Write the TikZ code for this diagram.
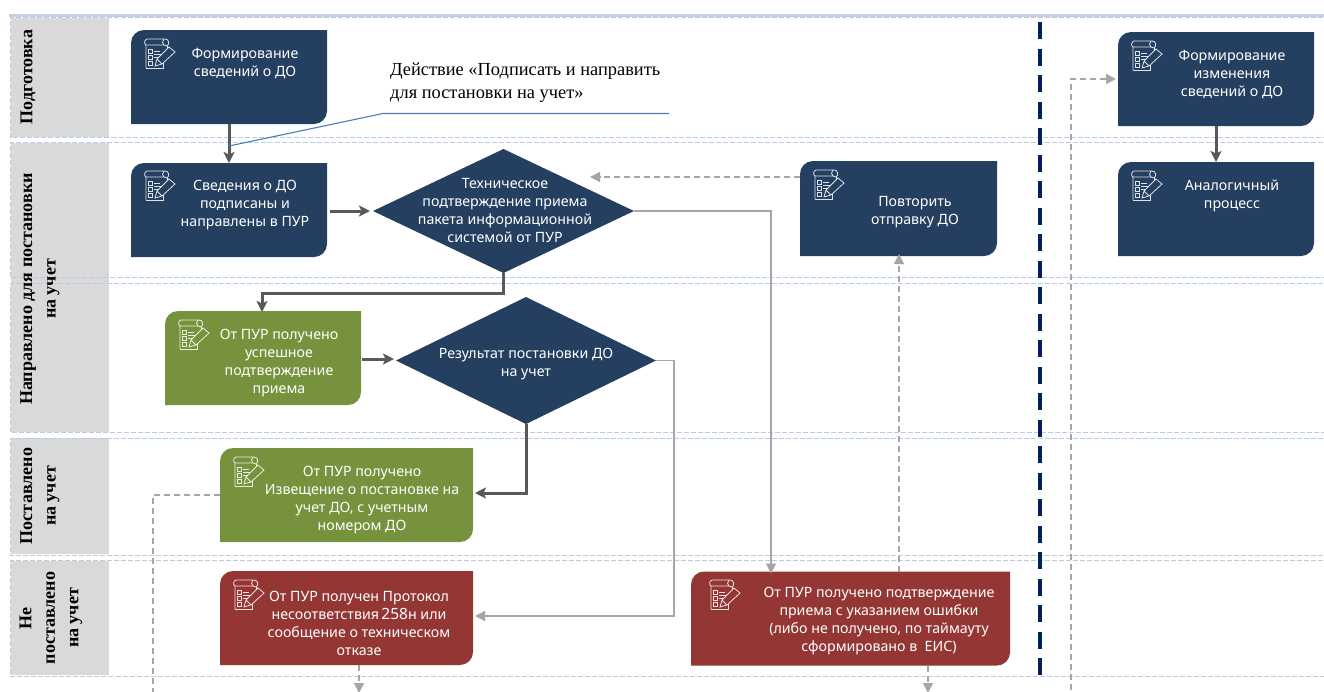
\documentclass[tikz,border=0pt]{standalone}
\usepackage{fontspec}
\setmainfont{Noto Sans}
\newfontfamily\serifcyr{Liberation Serif}
\usetikzlibrary{arrows.meta,shapes.geometric}
\definecolor{navy}{HTML}{243F60}
\definecolor{leaf}{HTML}{76923C}
\definecolor{brick}{HTML}{943634}
\definecolor{lanecol}{HTML}{B8CCE4}
\definecolor{topcol}{HTML}{C5D0E0}
\definecolor{panel}{HTML}{D9D9D9}
\definecolor{darkline}{HTML}{595959}
\definecolor{grayline}{HTML}{A6A6A6}
\definecolor{splitcol}{HTML}{002060}
\definecolor{callcol}{HTML}{4A7EBB}
\tikzset{
  x=1pt,y=-1pt,
  boxframe/.style={rectangle,inner sep=0pt,outer sep=0pt},
  txt/.style={text=white,align=center,inner sep=0pt,font=\fontsize{14.2}{18}\selectfont},
  lanetxt/.style={rotate=90,align=center,inner sep=0pt,font=\serifcyr\bfseries\fontsize{18}{23.5}\selectfont},
  lane/.style={draw=lanecol,line width=1pt,dash pattern=on 5pt off 2pt},
  strong/.style={draw=darkline,line width=3pt,-{Stealth[length=11pt,width=11pt,inset=2.5pt]}},
  thin/.style={draw=grayline,line width=1.5pt,-{Triangle[length=10pt,width=10pt]}},
  dashedflow/.style={draw=grayline,line width=1.5pt,dash pattern=on 6pt off 4pt,-{Triangle[length=10pt,width=10pt]}},
  dashedplain/.style={draw=grayline,line width=1.5pt,dash pattern=on 6pt off 4pt},
  iconline/.style={draw=white,draw opacity=.85,line width=.8pt},
}
\newcommand\docicon[2]{%
  \begin{scope}[shift={(#1,#2)},iconline]
    \draw (2,29) -- (2,6) .. controls (0,5) and (0,1) .. (3,0) -- (21,0)
          .. controls (25,0) and (26,5) .. (23,7) -- (20,6) -- (2,6);
    \draw (2,29) -- (19,29) -- (19,24);
    \draw (23,7) -- (23,9);
    \draw (20,0) .. controls (18,2) and (18,5) .. (20,6);
    \draw (4,10) rectangle (8,14) (4,16) rectangle (8,20) (4,22) rectangle (8,26);
    \draw (10,12) -- (16,12) (10,15) -- (17,15) (10,18) -- (15,18);
    \draw (11,27) -- (13,20) -- (25,8) -- (31,13) -- (18,25) -- cycle (13,20) -- (18,25);
  \end{scope}}
\newcommand\flowbox[6]{%
  \fill[#6] (#2,#5) [rounded corners=13pt] -- (#2,#3) [sharp corners] -- (#4,#3)
     [rounded corners=13pt] -- (#4,#5) [sharp corners] -- cycle;
  \node[boxframe,minimum width={#4-#2},minimum height={#5-#3}] (#1) at ({(#2+#4)/2},{(#3+#5)/2}) {};}
\newcommand\flowdiamond[5]{%
  \pgfmathsetmacro\diaasp{(#4-#2)/(#5-#3)}%
  \node[diamond,fill=navy,inner sep=0pt,outer sep=0pt,shape aspect=\diaasp,
        minimum width={#4-#2},minimum height={#5-#3}] (#1) at ({(#2+#4)/2},{(#3+#5)/2}) {};}
\begin{document}
\begin{tikzpicture}
\useasboundingbox (0,0) rectangle (1324,691);
\clip (0,0) rectangle (1324,691);
\fill[white] (0,0) rectangle (1324,691);
% panels
\fill[panel] (11,18) rectangle (109,137);
\fill[panel] (11,143) rectangle (109,432);
\fill[panel] (11,438) rectangle (109,554);
\fill[panel] (11,561) rectangle (109,675);
% lanes
\draw[lane] (1330,17.5) -- (10.5,17.5) -- (10.5,137) -- (1330,137);
\draw[lane] (1330,142.5) -- (10.5,142.5) -- (10.5,277) -- (1330,277);
\draw[lane] (1330,283) -- (10.5,283) -- (10.5,432) -- (1330,432);
\draw[lane] (1330,438) -- (10.5,438) -- (10.5,555) -- (1330,555);
\draw[lane] (1330,560.5) -- (10.5,560.5) -- (10.5,676) -- (1330,676);
\fill[topcol] (9,13.5) rectangle (1324,16.5);
% lane labels
\node[lanetxt] (l1) at (28,77) {Подготовка};
\node[lanetxt] (l2) at (40,289) {Направлено для постановки\\на учет};
\node[lanetxt] (l3) at (40,496) {Поставлено\\на учет};
\node[lanetxt] (l4) at (51,618) {Не\\поставлено\\на учет};
% divider
\coordinate (divtop) at (1040,22);
\coordinate (divbot) at (1040,676);
\draw[splitcol,line width=3.6pt,dash pattern=on 17pt off 9.5pt] (divtop) -- (divbot);
% free ends
\coordinate (idown) at (153,700);
\coordinate (jdown) at (359,693);
\coordinate (kdown) at (928,693);
\coordinate (eup) at (1071,700);
% boxes
\flowbox{a}{131}{30}{327}{124}{navy}
\flowbox{b}{131}{163}{327}{257}{navy}
\flowbox{d}{800}{161}{997}{256}{navy}
\flowbox{e}{1118}{32}{1314}{126}{navy}
\flowbox{f}{1118}{162}{1314}{256}{navy}
\flowbox{g}{165}{311}{361}{405}{leaf}
\flowbox{i}{220}{448}{473}{542}{leaf}
\flowbox{j}{220}{571}{473}{665}{brick}
\flowbox{k}{691}{571.5}{1010}{665.5}{brick}
\flowdiamond{c}{373}{149}{634}{273}
\flowdiamond{h}{396}{297}{656}{424}
% icons
\docicon{144}{39}
\docicon{144}{171}
\docicon{813}{170}
\docicon{1131}{41}
\docicon{1131}{171}
\docicon{178}{320}
\docicon{233}{457}
\docicon{233}{580}
\docicon{709}{580}
% texts
\node[txt] (ta) at (245,63) {Формирование\\сведений о ДО};
\node[txt] (tb) at (245,205) {Сведения о ДО\\подписаны и\\направлены в ПУР};
\node[txt] (tc) at (505,211) {Техническое\\подтверждение приема\\пакета информационной\\системой от ПУР};
\node[txt] (td) at (915,212) {Повторить\\отправку ДО};
\node[txt] (te) at (1232,74) {Формирование\\изменения\\сведений о ДО};
\node[txt] (tf) at (1232,196) {Аналогичный\\процесс};
\node[txt] (tg) at (279,363) {От ПУР получено\\успешное\\подтверждение\\приема};
\node[txt] (th) at (526,364) {Результат постановки ДО\\на учет};
\node[txt] (ti) at (362,500) {От ПУР получено\\Извещение о постановке на\\учет ДО, с учетным\\номером ДО};
\node[txt] (tj) at (359,623) {От ПУР получен Протокол\\несоответствия\,{\fontsize{15.5}{18}\selectfont 258}н или\\сообщение о техническом\\отказе};
\node[txt] (tk) at (879,621) {От ПУР получено подтверждение\\приема с указанием ошибки\\(либо не получено, по таймауту\\сформировано в\ \ ЕИС)};
% callout
\node[align=left,anchor=north west,inner sep=0pt,font=\serifcyr\fontsize{18.4}{23}\selectfont] (call) at (390,63)
  {Действие «Подписать и направить\\для постановки на учет»};
\coordinate (c1) at (229,146);
\coordinate (c2) at (383,113.5);
\coordinate (c3) at (669,113.5);
% connectors
\draw[strong] (a.south -| 229,0) -- (b.north -| 229,0);
\draw[strong] (b.east |- 0,211) ++(3,0) -- ([xshift=-3pt]c.west);
\draw[strong] (c.south) |- (262,293) -- ([yshift=-1pt]g.north -| 262,0);
\draw[strong] (g.east |- 0,359) ++(1,0) -- (394,359);
\draw[strong] (h.south) |- ([xshift=2pt,yshift=2pt]i.east);
\draw[thin] (c.east) -| ([yshift=-2pt]k.north -| 771,0);
\draw[thin] (h.east) -- (674,360.5) |- ([xshift=2pt,yshift=2pt]j.east);
\draw[dashedflow] (k.north -| 899,0) -- ([yshift=2pt]d.south -| 899,0);
\draw[dashedflow] (d.west |- 0,177) -- (590,177);
\draw[dashedplain] (i.west) -| (idown);
\draw[dashedflow] (j.south -| 359,0) -- (jdown);
\draw[dashedflow] (k.south -| 928,0) -- (kdown);
\draw[dashedflow] (eup) |- ([xshift=-2pt]e.west);
\draw[strong] (e.south -| 1216,0) -- (f.north -| 1216,0);
\draw[callcol,line width=1.1pt] (c1) -- (c2) -- (c3);
\end{tikzpicture}
\end{document}
